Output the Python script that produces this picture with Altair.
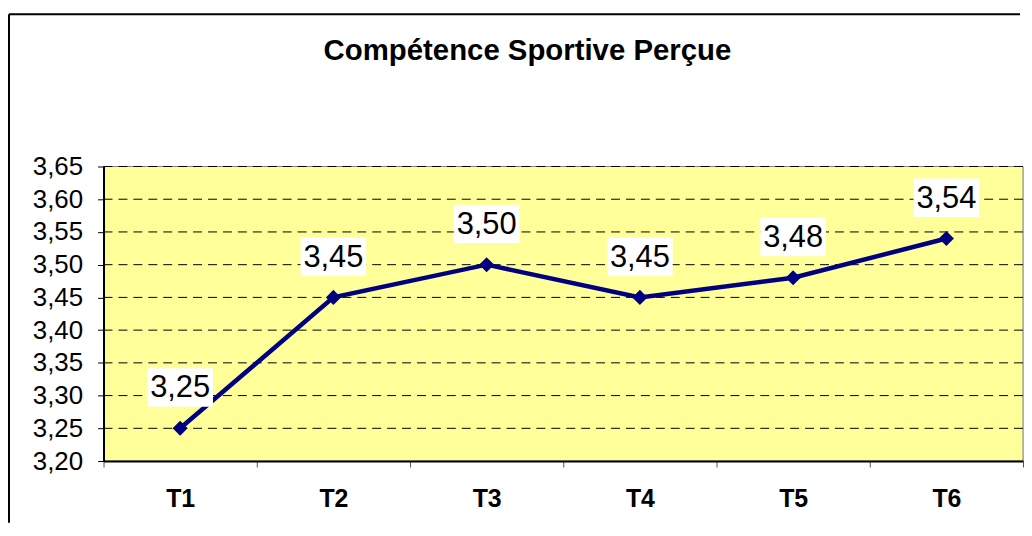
import altair as alt
import pandas as pd

# ---- data ----
categories = ["T1", "T2", "T3", "T4", "T5", "T6"]
values = [3.25, 3.45, 3.50, 3.45, 3.48, 3.54]
value_labels = ["3,25", "3,45", "3,50", "3,45", "3,48", "3,54"]
y_ticks = [3.20, 3.25, 3.30, 3.35, 3.40, 3.45, 3.50, 3.55, 3.60, 3.65]
title_text = ["Compétence Sportive Perçue"]

df = pd.DataFrame({"t": categories, "v": values, "lab": value_labels})
df_grid = pd.DataFrame({"v": y_ticks[1:]})
df_title = pd.DataFrame({"s": title_text})
df_one = pd.DataFrame({"k": [0]})

FONT = "Liberation Sans"
NAVY = "#000080"

x = alt.X(
    "t:N",
    sort=categories,
    scale=alt.Scale(paddingInner=0, paddingOuter=0),
    axis=alt.Axis(
        title=None, labelFontWeight="bold", labelFontSize=25, labelFont=FONT,
        labelColor="black", labelAngle=0, labelPadding=20, tickBand="extent",
        tickSize=6, tickColor="#555555", domainColor="black", domainWidth=2,
        grid=False, zindex=1,
    ),
)
y = alt.Y(
    "v:Q",
    scale=alt.Scale(domain=[3.2, 3.65], nice=False, zero=False),
    axis=alt.Axis(
        title=None, values=y_ticks,
        labelExpr="replace(format(datum.value, '.2f'), '.', ',')",
        labelFontSize=26, labelFont=FONT, labelColor="black", labelPadding=15,
        tickSize=6, tickColor="black", domainColor="black", domainWidth=2,
        grid=False, zindex=1,
    ),
)

bg = alt.Chart(df_one).mark_rect(fill="#FFFF99", stroke="#808080", strokeWidth=1).encode(
    x=alt.value(0), x2=alt.value(924), y=alt.value(0), y2=alt.value(296)
)

grid = alt.Chart(df_grid).mark_rule(color="black", strokeWidth=1, strokeDash=[9, 6]).encode(
    y=y, x=alt.value(0), x2=alt.value(924)
)

base = alt.Chart(df).encode(x=x, y=y)

line = base.mark_line(color=NAVY, strokeWidth=4.5)
pts = base.mark_point(shape="diamond", filled=True, size=230, color=NAVY, opacity=1)
boxes = base.mark_point(
    shape="M-1,-0.585L1,-0.585L1,0.585L-1,0.585Z", size=66 * 66, filled=True,
    color="white", opacity=1, strokeWidth=0, yOffset=-41,
)
texts = base.mark_text(
    fontSize=31, font=FONT, yOffset=-40, baseline="middle", align="center", color="black"
).encode(text="lab:N")

title = alt.Chart(df_title).mark_text(
    fontSize=29.5, font=FONT, fontWeight="bold", align="center", baseline="alphabetic",
    color="black",
).encode(x=alt.value(426), y=alt.value(-107), text="s:N")

border_left = alt.Chart(df_one).mark_rule(color="black", strokeWidth=2).encode(
    x=alt.value(-95), y=alt.value(-153), y2=alt.value(358)
)
border_top = alt.Chart(df_one).mark_rule(color="black", strokeWidth=2).encode(
    x=alt.value(-95), x2=alt.value(921), y=alt.value(-153)
)

chart = (
    alt.layer(bg, grid, line, pts, boxes, texts, title, border_left, border_top)
    .properties(width=924, height=296, padding={"left": 0, "top": 4, "right": 0, "bottom": 0})
    .configure_view(stroke=None)
    .configure(background="white")
)

chart.save("out.html", embed_options={"renderer": "svg", "actions": False})
